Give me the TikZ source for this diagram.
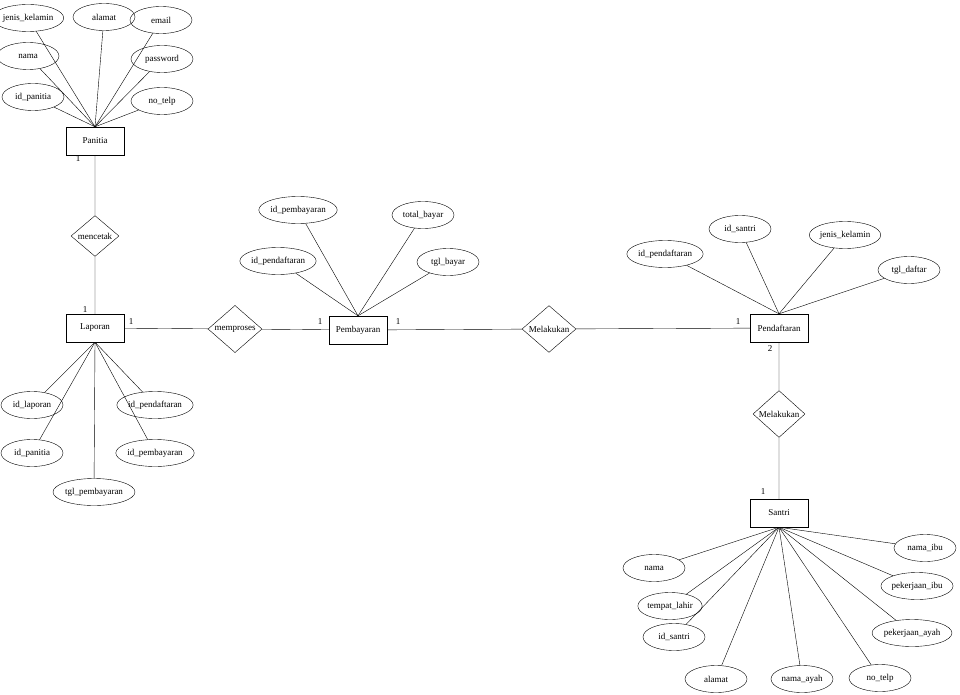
\documentclass[tikz,border=0pt]{standalone}
\usepackage{fontspec}
\setmainfont{Liberation Serif}
\usetikzlibrary{shapes.geometric}
\begin{document}
\begin{tikzpicture}[x=1pt,y=-1pt,font=\fontsize{9}{10}\selectfont,
 ent/.style={draw,minimum width=58pt,minimum height=28pt,inner sep=1pt},
 attr/.style={draw,ellipse,minimum width=62pt,minimum height=27pt,inner sep=0pt},
 rel/.style={draw,diamond,aspect=1,minimum width=50pt,inner sep=0pt},
 lab/.style={inner sep=0pt}]
\useasboundingbox (0,0) rectangle (960,695);
\node[ent] (pan) at (95,141) {Panitia};
\node[ent] (lap) at (95,328) {Laporan};
\node[ent] (pem) at (358,330) {Pembayaran};
\node[ent] (pen) at (779,328) {Pendaftaran};
\node[ent] (san) at (779,513) {Santri};
\node[rel,minimum width=48pt] (mc) at (95,236) {mencetak};
\node[rel,minimum width=54pt] (mp) at (235,329) {memproses};
\node[rel,minimum width=54pt] (m1) at (549,329) {Melakukan};
\node[rel,minimum width=52pt] (m2) at (779,414) {Melakukan};
\draw (pan) -- (mc) -- (lap) -- (mp) -- (pem) -- (m1) -- (pen) -- (m2) -- (san);
% Panitia
\foreach \n/\t/\x/\y in {a1/jenis\_kelamin/28/18, a2/alamat/104/17, a3/email/161/20, a4/nama/28/56, a5/password/162/59, a6/id\_panitia/33/97, a7/no\_telp/162/101}
 {\node[attr] (\n) at (\x,\y) {\t}; \draw (\n) -- (pan.north);}
% Laporan
\foreach \n/\t/\x/\y in {b1/id\_laporan/32/405, b2/id\_panitia/32/453, b4/id\_pendaftaran/155/405, b5/id\_pembayaran/155/453}
 {\node[attr] (\n) at (\x,\y) {\t}; \draw (\n) -- (lap.south);}
\node[attr,minimum width=80pt] (b3) at (94,492) {tgl\_pembayaran}; \draw (b3) -- (lap.south);
% Pembayaran
\foreach \n/\t/\x/\y in {c1/id\_pembayaran/298/210, c2/total\_bayar/423/215, c3/id\_pendaftaran/278/261, c4/tgl\_bayar/448/262}
 {\node[attr] (\n) at (\x,\y) {\t}; \draw (\n) -- (pem.north);}
% Pendaftaran
\foreach \n/\t/\x/\y in {d1/id\_santri/740/229, d2/jenis\_kelamin/845/235, d3/id\_pendaftaran/665/254, d4/tgl\_daftar/909/270}
 {\node[attr] (\n) at (\x,\y) {\t}; \draw (\n) -- (pen.north);}
% Santri
\foreach \n/\t/\x/\y in {e1/nama/654/568, e2/nama\_ibu/925/548, e3/tempat\_lahir/670/606, e4/pekerjaan\_ibu/917/586, e5/id\_santri/674/637, e7/alamat/716/679, e8/nama\_ayah/802/679, e9/no\_telp/880/678}
 {\node[attr] (\n) at (\x,\y) {\t}; \draw (\n) -- (san.south);}
\node[attr,minimum width=70pt] (e6) at (912,633) {pekerjaan\_ayah}; \draw (e6) -- (san.south);
\node[lab] (l1) at (78,159) {1};
\node[lab] (l2) at (85,310) {1};
\node[lab] (l3) at (131,322) {1};
\node[lab] (l4) at (320,322) {1};
\node[lab] (l5) at (398,322) {1};
\node[lab] (l6) at (738,322) {1};
\node[lab] (l7) at (770,349) {2};
\node[lab] (l8) at (763,492) {1};
\end{tikzpicture}
\end{document}
